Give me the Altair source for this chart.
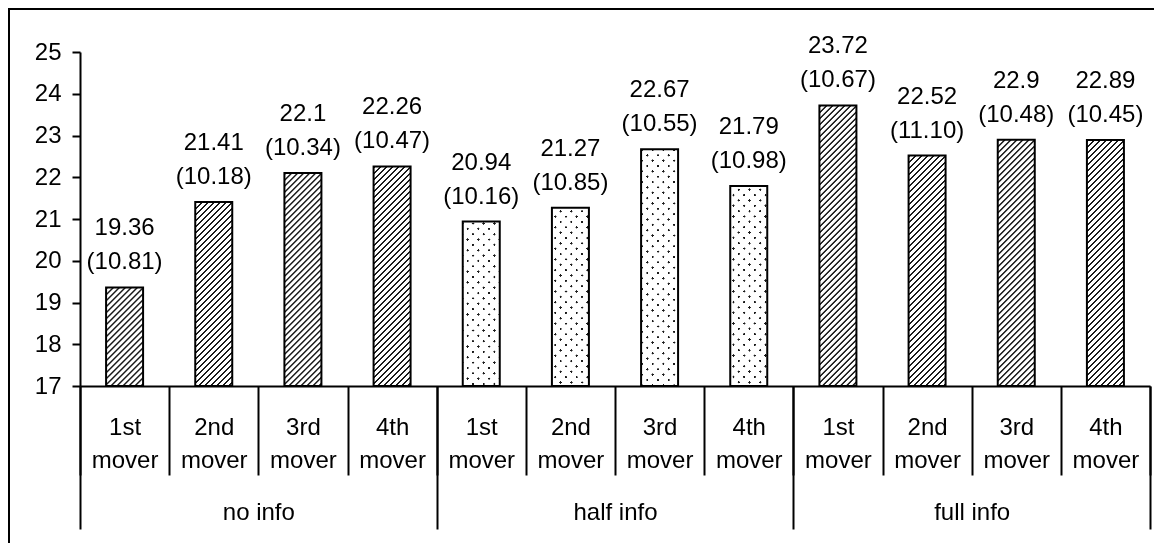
import altair as alt
import pandas as pd

# ---- data ----
groups = ["no info", "half info", "full info"]
movers = ["1st mover", "2nd mover", "3rd mover", "4th mover"]
means = [19.36, 21.41, 22.1, 22.26,
         20.94, 21.27, 22.67, 21.79,
         23.72, 22.52, 22.9, 22.89]
sds = ["10.81", "10.18", "10.34", "10.47",
       "10.16", "10.85", "10.55", "10.98",
       "10.67", "11.10", "10.48", "10.45"]
group_pattern = ["hatch", "dots", "hatch"]
y_ticks = [17, 18, 19, 20, 21, 22, 23, 24, 25]

# ---- layout / style ----
Y_MIN, Y_MAX = 17, 25
W, H = 1070, 334
BAR_W = 37
FONT = "Liberation Sans"
FS = 24
INK = "#1a1a1a"

rows = []
keys = []
for gi, g in enumerate(groups):
    for mi, m in enumerate(movers):
        i = gi * len(movers) + mi
        key = f"{g}|{m}"
        keys.append(key)
        rows.append({
            "key": key, "group": g, "mover": m, "mean": means[i],
            "label": f"{means[i]:g}\n({sds[i]})",
            "pattern": group_pattern[gi],
        })
df = pd.DataFrame(rows)


def stripe_gradient(w, h, period, profile, direction):
    """Linear gradient (bounding-box units) that renders as 45-degree stripes."""
    n = (w + h) / period
    stops = []
    k = 0
    done = False
    while not done:
        for frac, col in profile:
            off = (k + frac) / n
            if off > 1:
                done = True
                break
            stops.append(alt.GradientStop(offset=round(off, 5), color=col))
        k += 1
    c = (w + h) / (w * w + h * h)
    if direction == "/":
        return alt.LinearGradient(gradient="linear", stops=stops,
                                  x1=0, y1=0, x2=c * w, y2=c * h)
    return alt.LinearGradient(gradient="linear", stops=stops,
                              x1=0, y1=1, x2=c * w, y2=1 - c * h)


HATCH_PROFILE = [(0.0, "#ffffff"), (0.12, INK), (0.34, INK), (0.46, "#ffffff")]
DOT_PROFILE = [(0.0, "#ffffff"), (0.04, INK), (0.24, INK), (0.30, "#ffffff")]

x_enc = alt.X(
    "key:N", sort=keys,
    scale=alt.Scale(paddingInner=0, paddingOuter=0),
    axis=alt.Axis(
        title=None, orient="bottom",
        domainColor="black", domainWidth=2,
        tickColor="black", tickWidth=2, tickSize=89, tickBand="extent",
        labelExpr="indexof('' + datum.label, '|') >= 0 ? split(split(datum.label, '|')[1], ' ') : ''",
        labelFont=FONT, labelFontSize=FS, labelColor="black",
        labelPadding=-60, labelLineHeight=33, labelAngle=0,
        labelOverlap=False, labelFlush=False, labelBound=False,
    ),
)
y_enc = alt.Y(
    "mean:Q",
    scale=alt.Scale(domain=[Y_MIN, Y_MAX], zero=False, nice=False),
    axis=alt.Axis(
        title=None, values=y_ticks, grid=False,
        domainColor="black", domainWidth=2,
        tickColor="black", tickWidth=2, tickSize=8,
        labelFont=FONT, labelFontSize=FS, labelColor="black",
        labelPadding=11,
    ),
)

base = alt.Chart(df)
bar_layers = []
for r in rows:
    h = (r["mean"] - Y_MIN) / (Y_MAX - Y_MIN) * H
    one = base.transform_filter(alt.datum.key == r["key"])
    if r["pattern"] == "hatch":
        g1 = stripe_gradient(BAR_W, h, 6.0, HATCH_PROFILE, "/")
        bar_layers.append(one.mark_bar(width=BAR_W, fill=g1).encode(
            x=x_enc, y=y_enc, y2=alt.datum(Y_MIN)))
    else:
        g1 = stripe_gradient(BAR_W, h, 10.7, DOT_PROFILE, "/")
        g2 = stripe_gradient(BAR_W, h, 10.7, DOT_PROFILE, "\\")
        bar_layers.append(one.mark_bar(width=BAR_W, fill=g1).encode(
            x=x_enc, y=y_enc, y2=alt.datum(Y_MIN)))
        bar_layers.append(one.mark_bar(width=BAR_W, fill=g2, blend="lighten").encode(
            x=x_enc, y=y_enc, y2=alt.datum(Y_MIN)))

outline = base.mark_bar(width=BAR_W, fill="white", fillOpacity=0,
                        stroke="black", strokeWidth=2).encode(
    x=x_enc, y=y_enc, y2=alt.datum(Y_MIN))

labels = base.mark_text(
    lineBreak="\n", baseline="bottom", dy=-47, font=FONT, fontSize=FS,
    color="black", lineHeight=34,
).encode(x=x_enc, y=y_enc, text="label:N")

inner = alt.layer(*bar_layers, outline, labels)

gdf = pd.DataFrame({"group": groups})
group_axis = alt.Chart(gdf).mark_point(opacity=0).encode(
    x=alt.X(
        "group:N", sort=groups,
        scale=alt.Scale(paddingInner=0, paddingOuter=0),
        axis=alt.Axis(
            title=None, orient="bottom", domain=False,
            tickColor="black", tickWidth=2, tickSize=143, tickBand="extent",
            labelExpr="indexof(['no info', 'half info', 'full info'], datum.label) >= 0 ? datum.label : ''",
            labelFont=FONT, labelFontSize=FS, labelColor="black",
            labelPadding=-29, labelAngle=0,
        ),
    )
)

frame = alt.Chart(pd.DataFrame({"f": [0]})).mark_rect(
    fill="white", fillOpacity=0, stroke="black", strokeWidth=2
).encode(
    x=alt.value(-71), x2=alt.value(W + 60),
    y=alt.value(-43), y2=alt.value(H + 300),
)

chart = alt.layer(inner, group_axis, frame).resolve_scale(x="independent").properties(
    width=W, height=H,
    padding={"left": 72, "top": 44, "right": 4, "bottom": 157},
    autosize=alt.AutoSizeParams(type="none"),
    background="white",
).configure_view(strokeWidth=0)

chart.save("out.html", embed_options={"renderer": "svg", "actions": False})
